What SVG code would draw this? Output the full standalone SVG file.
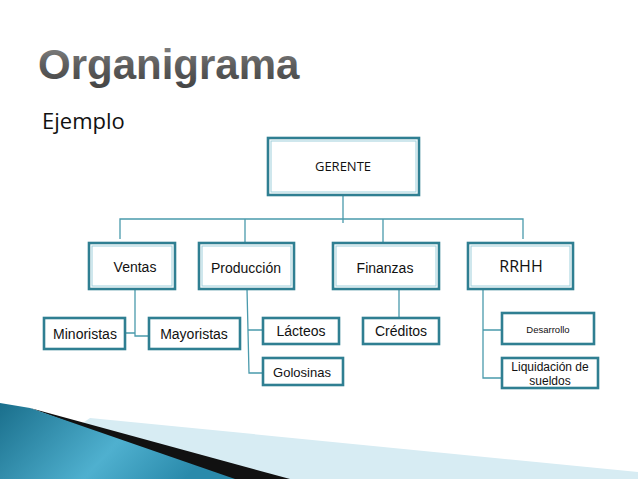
<svg xmlns="http://www.w3.org/2000/svg" width="638" height="479" viewBox="0 0 638 479">
<defs>
<linearGradient id="tg" x1="0" y1="0" x2="0" y2="1"><stop offset="0" stop-color="#8a8a8a"/><stop offset="0.5" stop-color="#5e5e5e"/><stop offset="1" stop-color="#444"/></linearGradient>
<linearGradient id="bg" x1="0" y1="0" x2="1" y2="0.3"><stop offset="0" stop-color="#1a6f8c"/><stop offset="0.6" stop-color="#4fb0cf"/><stop offset="1" stop-color="#2a8aab"/></linearGradient>
<style>
.b{fill:#fff;stroke:#2f7f92;stroke-width:2.6}
.bi{fill:none;stroke:#9fd0dc;stroke-width:1}
.c{fill:none;stroke:#4a9aac;stroke-width:1.3}
text{font-family:"Liberation Sans",Arial,sans-serif;fill:#111;text-anchor:middle}
.o{font-family:"Open Sans","Liberation Sans",sans-serif}
</style>
</defs>
<text x="38" y="79" style="text-anchor:start;font-size:42px;font-weight:bold;fill:url(#tg)">Organigrama</text>
<text x="42" y="129" class="o" style="text-anchor:start;font-size:22px">Ejemplo</text>
<polygon points="0,479 638,479 638,472 90,418" fill="#d7ecf3"/>
<polygon points="30,408 290,479 225,479" fill="#111"/>
<polygon points="0,403 30,408 235,479 0,479" fill="url(#bg)"/>
<g id="connectors">
<path class="c" d="M343,195V223M120,239V219H523V239M245,219V242M383,219V242"/>
<path class="c" d="M125,333H135V336H149M135,289V336"/>
<path class="c" d="M247,289L249,373H263M248,330H263"/>
<path class="c" d="M399,289V318"/>
<path class="c" d="M483,289V378H502M483,330H502"/>
</g>
<g id="gerente"><rect class="b" x="268" y="138" width="151" height="57"/><rect class="bi" x="271" y="141" width="145" height="51"/><text class="o" x="343" y="171" style="font-size:13px">GERENTE</text></g>
<g id="ventas"><rect class="b" x="89" y="243" width="86" height="46"/><rect class="bi" x="92" y="246" width="80" height="40"/><text x="135" y="272" style="font-size:14px">Ventas</text></g>
<g id="produccion"><rect class="b" x="199" y="243" width="95" height="46"/><rect class="bi" x="202" y="246" width="89" height="40"/><text x="246" y="273" style="font-size:14px">Producción</text></g>
<g id="finanzas"><rect class="b" x="333" y="243" width="106" height="46"/><rect class="bi" x="336" y="246" width="100" height="40"/><text x="385" y="273" style="font-size:14px">Finanzas</text></g>
<g id="rrhh"><rect class="b" x="468" y="243" width="105" height="46"/><rect class="bi" x="471" y="246" width="99" height="40"/><text class="o" x="521" y="272" style="font-size:16px">RRHH</text></g>
<g id="minoristas"><rect class="b" x="44" y="318" width="81" height="31"/><text x="85" y="339" style="font-size:14px">Minoristas</text></g>
<g id="mayoristas"><rect class="b" x="149" y="318" width="91" height="31"/><text x="194" y="339" style="font-size:14px">Mayoristas</text></g>
<g id="lacteos"><rect class="b" x="263" y="318" width="76" height="26"/><text x="301" y="336" style="font-size:14px">Lácteos</text></g>
<g id="golosinas"><rect class="b" x="263" y="358" width="80" height="27"/><text x="302" y="377" style="font-size:13px">Golosinas</text></g>
<g id="creditos"><rect class="b" x="363" y="318" width="76" height="26"/><text x="401" y="336" style="font-size:14px">Créditos</text></g>
<g id="desarrollo"><rect class="b" x="502" y="313" width="92" height="31"/><text x="548" y="333" style="font-size:9.5px">Desarrollo</text></g>
<g id="liquidacion"><rect class="b" x="502" y="358" width="96" height="30"/><text x="550" y="371" style="font-size:12px">Liquidación de</text><text x="550" y="385" style="font-size:12px">sueldos</text></g>
</svg>
